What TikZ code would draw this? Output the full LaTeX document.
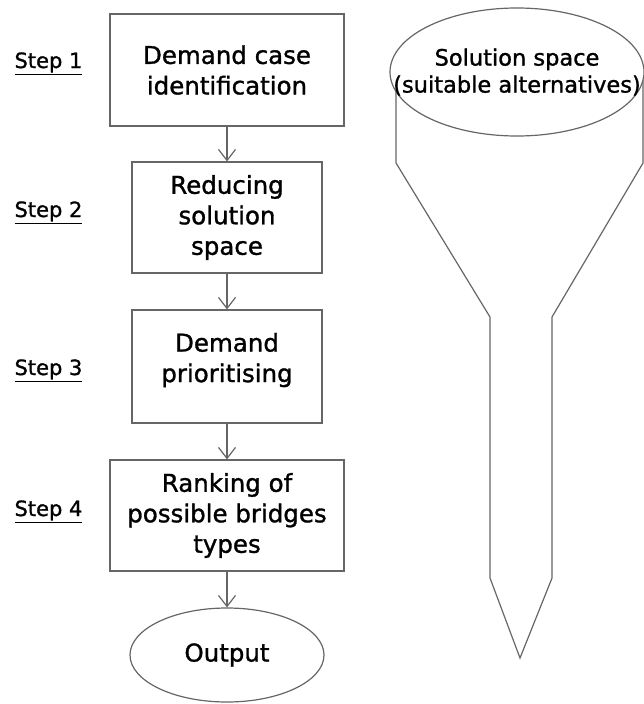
\documentclass[tikz,border=0pt]{standalone}
\usepackage{fontspec}
\setmainfont{DejaVu Sans}[FakeBold=1.2]
\usetikzlibrary{arrows.meta,shapes.geometric}

\begin{document}
\begin{tikzpicture}[x=1pt, y=-1pt, line width=1.2pt, draw=black!60,
  stepbox/.style={draw, rectangle, align=center, inner sep=0pt, font=\fontsize{24.5}{30.5}\selectfont},
  steplabel/.style={anchor=base east, inner sep=0pt, font=\fontsize{21}{25}\selectfont},
  flow/.style={-{Straight Barb[length=11pt, width=17pt]}}]
  \useasboundingbox (0,0) rectangle (644,704);

  % left column
  \node[steplabel] (s1) at (83,68) {\underline{Step 1}};
  \node[steplabel] (s2) at (83,217) {\underline{Step 2}};
  \node[steplabel] (s3) at (83,375) {\underline{Step 3}};
  \node[steplabel] (s4) at (83,516) {\underline{Step 4}};

  \node[stepbox, minimum width=234pt, minimum height=112pt] (ident) at (227,70) {Demand case\\identification};
  \node[stepbox, minimum width=190pt, minimum height=111pt] (reduce) at (227,217.5) {Reducing\\solution\\space};
  \node[stepbox, minimum width=190pt, minimum height=113pt, text depth=18pt] (prio) at (227,366.5) {Demand\\prioritising};
  \node[stepbox, minimum width=234pt, minimum height=111pt] (rank) at (227,515.5) {Ranking of\\possible bridges\\types};
  \node[stepbox, ellipse, minimum width=194pt, minimum height=94pt] (output) at (227,655) {Output};

  \draw[flow] (ident) -- (reduce);
  \draw[flow] (reduce) -- (prio);
  \draw[flow] (prio) -- (rank);
  \draw[flow] (rank) -- (output);

  % funnel
  \draw (396,80) -- (396,163) -- (490,317) -- (490,578) -- (520,658)
    -- (552,578) -- (552,317) -- (643,163) -- (643,80);
  \node[draw, ellipse, fill=white, inner sep=0pt, minimum width=254pt, minimum height=128pt] (space) at (517,72) {};
  \node[align=center, inner sep=0pt, font=\fontsize{22.5}{27}\selectfont] (spacelabel) at (517,72) {Solution space\\(suitable alternatives)};
\end{tikzpicture}
\end{document}
